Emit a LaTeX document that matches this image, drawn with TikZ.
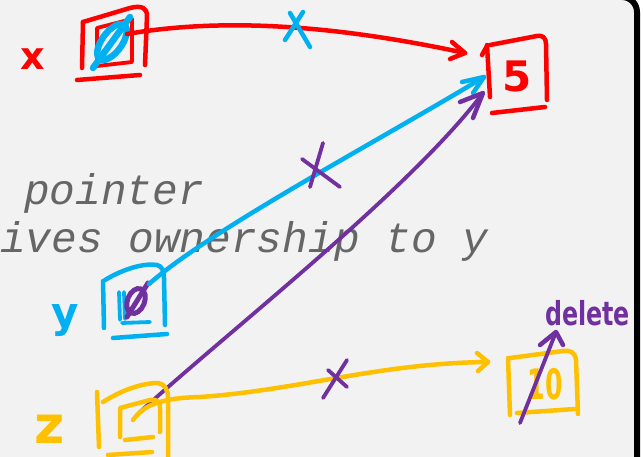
\documentclass[tikz,border=0pt]{standalone}
\usepackage{fontspec}
\setmonofont{Liberation Mono}
\newfontfamily\handfont{DejaVu Sans}
\definecolor{inkred}{HTML}{FF0000}
\definecolor{inkblue}{HTML}{00B0F0}
\definecolor{inkpurple}{HTML}{7030A0}
\definecolor{inkyellow}{HTML}{FFC000}
\definecolor{panel}{HTML}{F2F2F2}
\definecolor{textgray}{HTML}{666666}
\begin{document}
\begin{tikzpicture}[x=1pt,y=-1pt,
  ink/.style={line width=4.5pt, line cap=round, line join=round},
  thinink/.style={line width=3.8pt, line cap=round, line join=round},
  hand/.style={inner sep=0pt, anchor=base, font=\handfont\bfseries\fontsize{#1}{#1}\selectfont},
  mono/.style={inner sep=0pt, anchor=base west, text=textgray, font=\ttfamily\itshape\fontsize{42.8}{50}\selectfont}]
\useasboundingbox (0,0) rectangle (643,457);
% background panel
\fill[white] (0,0) rectangle (643,457);
\fill[panel] (-5,-3) -- (622,-3) arc[start angle=-90, end angle=0, radius=15] -- (637,462) -- (-5,462) -- cycle;
\draw[black, line width=6pt] (560,-3) -- (622,-3) arc[start angle=-90, end angle=0, radius=15] -- (637,462);

% caption text
\node[mono] (t1) at (24,205) {pointer};
\node[mono] (t2) at (0,253) {ives ownership to y};

% anchor coordinates
\coordinate (xout) at (127,34);
\coordinate (fiveR) at (465,53);
\coordinate (yout) at (149,284);
\coordinate (fiveB) at (484,77);
\coordinate (zout) at (140,412);
\coordinate (fiveP) at (483,93);
\coordinate (zoutY) at (133,420);
\coordinate (tenin) at (488,362);
\coordinate (delfrom) at (520,423);
\coordinate (delto) at (556,332);

% ---- box x (red) ----
\node[hand=38, text=inkred] (lx) at (33,70) {x};
\draw[ink, inkred] (83,22) -- (82,68);
\draw[ink, inkred] (83,22) -- (130,8) .. controls (142,5) and (147,8) .. (147,16) -- (145,65);
\draw[ink, inkred] (77,80) -- (140,75);
\draw[thinink, inkred] (97,66) -- (97,28) -- (132,19) -- (132,62) -- cycle;
\draw[line width=6.5pt, inkblue, rotate around={-36:(112,42)}] (112,42) ellipse [x radius=10, y radius=21];
\draw[line width=6.5pt, line cap=round, inkblue] (93,68) -- (130,17);

% ---- box 5 (red) ----
\draw[ink, inkred] (487,45) -- (490,97);
\draw[ink, inkred] (482,55) -- (487,46);
\draw[ink, inkred] (490,45) -- (537,36) .. controls (543,35) and (546,38) .. (546,44) -- (547,100);
\draw[ink, inkred] (492,113) -- (545,107);
\node[hand=42, text=inkred] (five) at (517,92) {5};

% red arrow x -> 5
\draw[ink, inkred] (xout) .. controls (220,18) and (330,24) .. (fiveR);
\draw[ink, inkred] (fiveR) ++(-13,-11) -- (fiveR) -- ++(-15,6);
\draw[ink, inkblue] (290,13) -- (310,47);
\draw[ink, inkblue] (303,12) -- (285,40);

% ---- box y (blue) ----
\node[hand=42, text=inkblue] (ly) at (65,327) {y};
\draw[ink, inkblue] (103,281) -- (104,328);
\draw[ink, inkblue] (105,280) .. controls (125,268) and (145,263) .. (157,265) .. controls (162,266) and (164,271) .. (164,278) -- (165,325);
\draw[ink, inkblue] (113,338) -- (167,334);
\draw[thinink, inkblue] (119,292) -- (120,320);
\draw[thinink, inkblue] (124,292) -- (125,319);
\draw[thinink, inkblue] (122,323) -- (150,322);
\draw[line width=5pt, inkpurple, rotate around={-22:(136,301)}] (136,301) ellipse [x radius=8.5, y radius=13];
\draw[line width=5pt, line cap=round, inkpurple] (127,317) -- (148,283);

% blue arrow y -> 5
\draw[ink, inkblue] (yout) .. controls (210,230) and (380,140) .. (fiveB);
\draw[ink, inkblue] (fiveB) ++(-22,5) -- (fiveB) -- ++(-11,16);
\draw[thinink, inkpurple] (302,159) -- (340,187);
\draw[thinink, inkpurple] (323,143) -- (310,187);

% purple arrow z -> 5
\draw[thinink, inkpurple] (zout) .. controls (230,330) and (410,190) .. (fiveP);
\draw[ink, inkpurple] (fiveP) ++(-23,9) -- (fiveP) -- ++(-10,25);

% ---- box z (yellow) ----
\node[hand=52, text=inkyellow] (lz) at (50,443) {z};
\draw[ink, inkyellow] (97,392) -- (99,447);
\draw[ink, inkyellow] (103,402) .. controls (125,388) and (145,383) .. (158,383) .. controls (165,384) and (168,390) .. (168,398) -- (168,457);
\draw[ink, inkyellow] (108,455) -- (152,452);
\draw[ink, inkyellow] (120,437) -- (120,408) -- (150,400) .. controls (158,399) and (160,402) .. (160,408) -- (160,432);
\draw[ink, inkyellow] (125,440) -- (153,437);

% yellow arrow z -> 10
\draw[ink, inkyellow] (zoutY) .. controls (145,403) and (165,398) .. (200,397) .. controls (300,390) and (380,363) .. (tenin);
\draw[ink, inkyellow] (tenin) ++(-11,-9) -- (tenin) -- ++(-10,9);
\draw[thinink, inkpurple] (347,360) -- (323,398);
\draw[thinink, inkpurple] (328,370) -- (347,387);

% ---- box 10 (yellow) ----
\draw[ink, inkyellow] (508,358) -- (510,415);
\draw[ink, inkyellow] (510,358) -- (563,351) .. controls (570,350) and (575,352) .. (576,360) -- (578,414);
\draw[ink, inkyellow] (517,413) -- (575,409);
\node[hand=42, text=inkyellow, xscale=0.6] (ten) at (545,399) {10};

% delete arrow
\draw[thinink, inkpurple] (delfrom) -- (delto);
\draw[ink, inkpurple] (delto) ++(-16,13) -- (delto) -- ++(7,13);
\node[hand=33, text=inkpurple, xscale=0.72, anchor=base west] (del) at (545,325) {delete};
\end{tikzpicture}
\end{document}
